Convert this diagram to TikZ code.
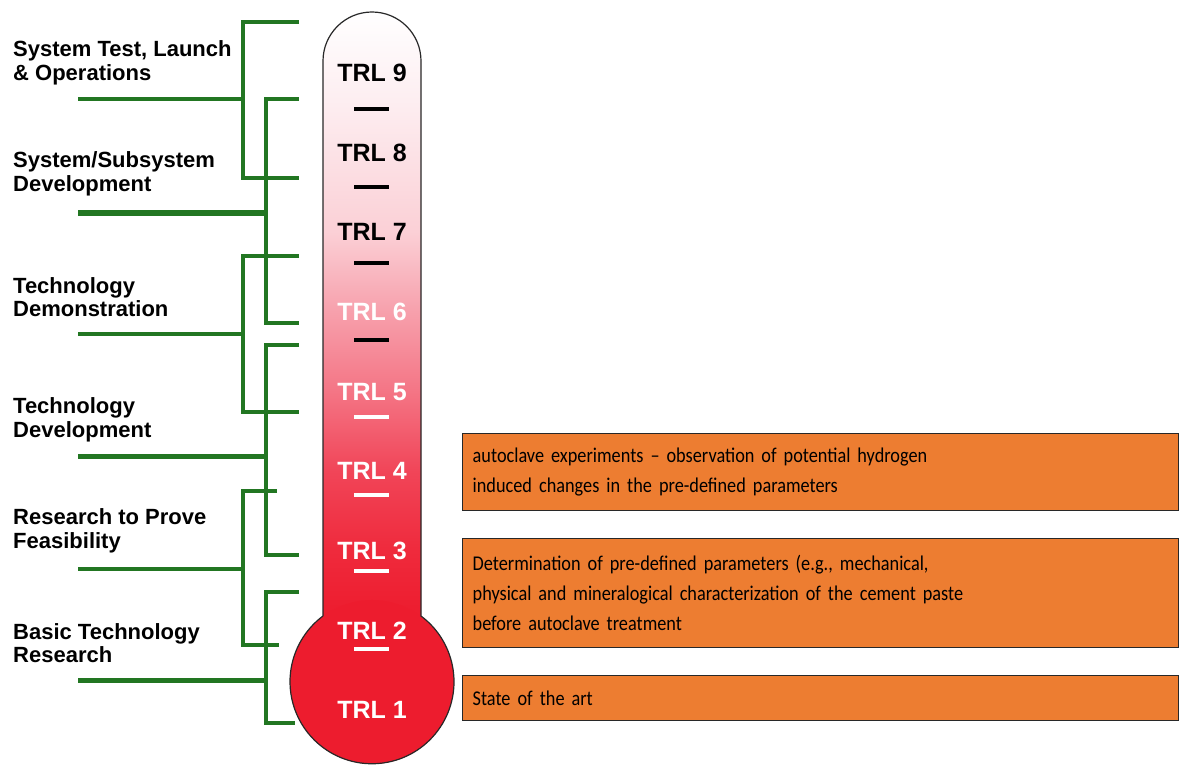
\documentclass[tikz,border=0pt]{standalone}
\usepackage{fontspec}
\setmainfont{Liberation Sans}
\newfontfamily\boxfont[FakeStretch=0.87]{Carlito}
\usepackage{tikz}
\usetikzlibrary{positioning}
\definecolor{trlgreen}{RGB}{34,118,34}
\definecolor{trlorange}{RGB}{237,125,49}
\definecolor{trlred}{RGB}{237,28,46}
\definecolor{trlline}{RGB}{40,40,40}
\definecolor{tubeA}{RGB}{239,42,60}
\definecolor{tubeB}{RGB}{241,69,88}
\definecolor{tubeC}{RGB}{244,117,133}
\definecolor{tubeD}{RGB}{247,160,172}
\definecolor{tubeE}{RGB}{251,208,214}
\definecolor{tubeF}{RGB}{253,238,241}
\pgfdeclareverticalshading{tube}{100bp}{color(0bp)=(trlred); color(25bp)=(trlred); color(30.4bp)=(tubeA); color(37bp)=(tubeB); color(43.6bp)=(tubeC); color(50.2bp)=(tubeD); color(56.8bp)=(tubeE); color(67.7bp)=(tubeF); color(75bp)=(white); color(100bp)=(white)}
\tikzset{
  grn/.style={draw=trlgreen,line width=3.2pt},
  phase/.style={anchor=west,align=left,inner sep=0pt,font=\bfseries\fontsize{22}{23.5}\selectfont},
  trllbl/.style={font=\bfseries\fontsize{25}{25}\selectfont,inner sep=0pt},
  trlbar/.style={line width=3.5pt},
  obox/.style={draw=trlline,fill=trlorange,line width=1.4pt,anchor=north west,align=left,text width=696pt,inner xsep=10pt,inner ysep=0pt,font=\boxfont\fontsize{21}{30}\selectfont},
}

\begin{document}
\begin{tikzpicture}[x=1pt,y=1pt]
\useasboundingbox (0,0) rectangle (1179,764);
% thermometer
\shade[shading=tube] (323,148) -- (323,703) arc[start angle=180,end angle=0,radius=49] -- (421,148) -- cycle;
\fill[trlred] (372,82) circle[radius=82];
\draw[trlline,line width=1.2pt] (323,148) -- (323,703) arc[start angle=180,end angle=0,radius=49] -- (421,148) arc[start angle=53.3,end angle=-233.3,radius=82];
\foreach \i/\c in {1/white,2/white,3/white,4/white,5/white,6/white,7/black,8/black,9/black}
  \node[trllbl,text=\c] (trl\i) at (372,{54+(\i-1)*79.6}) {TRL \i};
\foreach \y/\c in {655/black,577/black,501/black,424/black,347/white,269/white,193/white,115/white}
  \draw[trlbar,\c] (354,\y) -- (389,\y);
% phase labels
\node[phase] (syst) at (13,701) {System Test, Launch\\\& Operations};
\node[phase] (subs) at (13,590) {System/Subsystem\\Development};
\node[phase] (demo) at (13,467) {Technology\\Demonstration};
\node[phase] (devl) at (13,344) {Technology\\Development};
\node[phase] (feas) at (13,233) {Research to Prove\\Feasibility};
\node[phase] (basic) at (13,121) {Basic Technology\\Research};
% brackets
\foreach \n/\bx/\yt/\yb/\xt/\xb/\yl/\lw in {a/243/742/586/299/299/665/3.2,b/266/665/441/299/299/551/5.5,c/243/508/352/299/299/430/3.2,d/266/419/209/299/299/307/5,e/243/273/119/277/279/195/3.2,f/266/172/41/299/295/84/5} {
  \coordinate (\n t) at (\xt,\yt); \coordinate (\n b) at (\xb,\yb); \coordinate (\n l) at (78,\yl);
  \draw[grn] (\n t) -- (\bx,\yt) -- (\bx,\yb) -- (\n b);
  \draw[grn,line width=\lw pt] (\n l) -- (\bx,\yl);
}
% work packages
\node[obox,minimum height=77pt] (exp) at (462,331) {autoclave experiments – observation of potential hydrogen\\induced changes in the pre-defined parameters};
\node[obox,minimum height=109pt] (param) at (462,226) {Determination of pre-defined parameters (e.g., mechanical,\\physical and mineralogical characterization of the cement paste\\before autoclave treatment};
\node[obox,minimum height=45pt] (art) at (462,89) {State of the art};
\end{tikzpicture}
\end{document}
